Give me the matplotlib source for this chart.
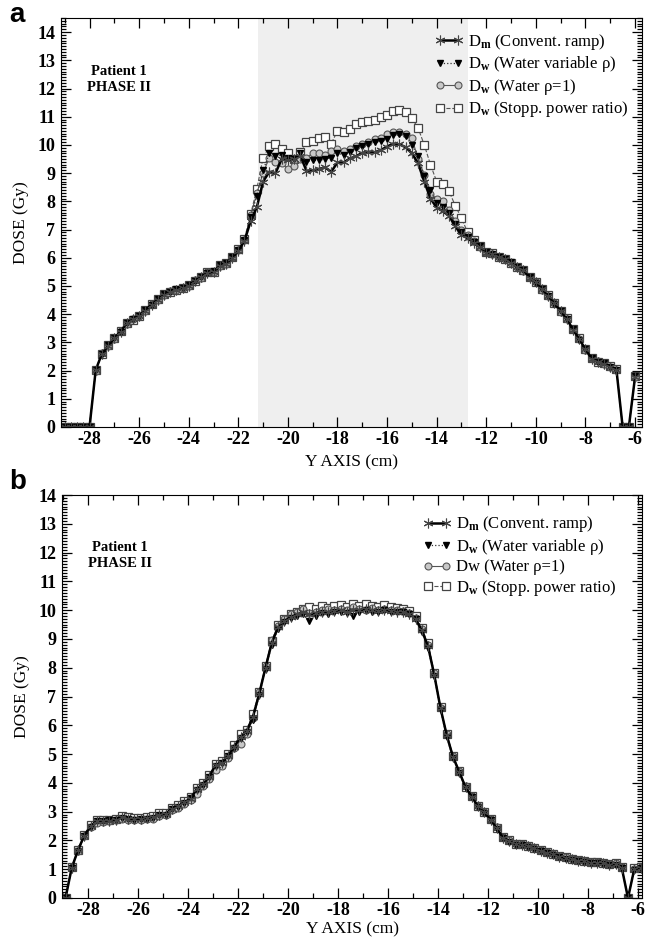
import matplotlib
matplotlib.use('Agg')
import matplotlib.pyplot as plt
from matplotlib.ticker import MultipleLocator

plt.rcParams['font.family'] = 'Liberation Serif'
plt.rcParams['mathtext.fontset'] = 'custom'
plt.rcParams['mathtext.rm'] = 'Liberation Serif'
plt.rcParams['mathtext.bf'] = 'Liberation Serif:bold'
plt.rcParams['mathtext.it'] = 'Liberation Serif:italic'
plt.rcParams['axes.unicode_minus'] = False

# ---- panel a data (dose profiles along Y, Gy) ----
x_a = [-29.0, -28.75, -28.5, -28.25, -28.0, -27.75, -27.5, -27.25, -27.0, -26.75,
       -26.5, -26.25, -26.0, -25.75, -25.5, -25.25, -25.0, -24.75, -24.5, -24.25,
       -24.0, -23.75, -23.5, -23.25, -23.0, -22.75, -22.5, -22.25, -22.0, -21.75,
       -21.5, -21.25, -21.0, -20.75, -20.5, -20.25, -20.0, -19.75, -19.5, -19.25,
       -19.0, -18.75, -18.5, -18.25, -18.0, -17.75, -17.5, -17.25, -17.0, -16.75,
       -16.5, -16.25, -16.0, -15.75, -15.5, -15.25, -15.0, -14.75, -14.5, -14.25,
       -14.0, -13.75, -13.5, -13.25, -13.0, -12.75, -12.5, -12.25, -12.0, -11.75,
       -11.5, -11.25, -11.0, -10.75, -10.5, -10.25, -10.0, -9.75, -9.5, -9.25,
       -9.0, -8.75, -8.5, -8.25, -8.0, -7.75, -7.5, -7.25, -7.0, -6.75,
       -6.5, -6.25, -6.0]

dm_a = [0, 0, 0, 0, 0, 2.02, 2.60, 2.88, 3.14, 3.38,
        3.68, 3.82, 3.94, 4.13, 4.34, 4.52, 4.68, 4.79, 4.87, 4.92,
        5.00, 5.18, 5.31, 5.47, 5.49, 5.72, 5.78, 6.00, 6.25, 6.60,
        7.30, 7.80, 8.70, 9.05, 9.00, 9.50, 9.48, 9.50, 9.62, 9.08,
        9.10, 9.15, 9.20, 9.05, 9.38, 9.38, 9.52, 9.60, 9.72, 9.76,
        9.74, 9.82, 9.94, 10.05, 10.02, 9.92, 9.70, 9.35, 8.70, 8.10,
        7.78, 7.65, 7.48, 7.12, 6.80, 6.70, 6.52, 6.38, 6.18, 6.14,
        6.02, 5.96, 5.82, 5.67, 5.55, 5.30, 5.13, 4.88, 4.64, 4.38,
        4.10, 3.82, 3.45, 3.12, 2.75, 2.42, 2.32, 2.25, 2.13, 2.02,
        0, 0, 1.78]

dwv_a = [0, 0, 0, 0, 0, 2.03, 2.58, 2.90, 3.15, 3.36,
         3.70, 3.83, 3.95, 4.15, 4.33, 4.54, 4.70, 4.78, 4.88, 4.94,
         5.02, 5.17, 5.33, 5.46, 5.52, 5.73, 5.80, 6.02, 6.27, 6.62,
         7.45, 8.20, 9.10, 9.70, 9.60, 9.65, 9.55, 9.50, 9.70, 9.40,
         9.45, 9.45, 9.50, 9.55, 9.70, 9.65, 9.75, 9.90, 9.95, 10.05,
         10.10, 10.15, 10.20, 10.35, 10.40, 10.30, 10.00, 9.60, 8.90, 8.40,
         7.95, 7.80, 7.60, 7.20, 6.90, 6.75, 6.55, 6.40, 6.20, 6.12,
         6.04, 5.95, 5.84, 5.66, 5.57, 5.32, 5.12, 4.90, 4.66, 4.36,
         4.12, 3.84, 3.47, 3.10, 2.78, 2.44, 2.30, 2.26, 2.12, 2.03,
         0, 0, 1.80]

dw1_a = [0, 0, 0, 0, 0, 2.00, 2.62, 2.87, 3.12, 3.40,
         3.66, 3.84, 3.92, 4.12, 4.36, 4.50, 4.69, 4.81, 4.85, 4.93,
         5.01, 5.20, 5.30, 5.48, 5.50, 5.70, 5.79, 6.01, 6.28, 6.63,
         7.50, 8.30, 9.00, 9.55, 9.40, 9.35, 9.15, 9.25, 9.50, 9.55,
         9.70, 9.70, 9.65, 9.80, 9.85, 9.80, 9.85, 9.95, 10.05, 10.10,
         10.20, 10.25, 10.40, 10.45, 10.45, 10.40, 10.25, 9.50, 8.95, 8.25,
         8.10, 8.00, 7.70, 7.30, 7.00, 6.80, 6.58, 6.39, 6.19, 6.15,
         6.01, 5.97, 5.81, 5.68, 5.54, 5.31, 5.14, 4.87, 4.65, 4.39,
         4.09, 3.83, 3.46, 3.13, 2.74, 2.43, 2.33, 2.24, 2.14, 2.01,
         0, 0, 1.79]

dsp_a = [0, 0, 0, 0, 0, 2.01, 2.59, 2.89, 3.16, 3.39,
         3.69, 3.81, 3.95, 4.14, 4.35, 4.53, 4.70, 4.80, 4.86, 4.93,
         5.02, 5.19, 5.32, 5.48, 5.51, 5.74, 5.80, 6.03, 6.30, 6.68,
         7.55, 8.45, 9.55, 9.95, 10.05, 9.85, 9.70, 9.50, 9.75, 10.10,
         10.15, 10.25, 10.28, 10.05, 10.50, 10.45, 10.55, 10.75, 10.82, 10.85,
         10.90, 11.00, 11.05, 11.20, 11.25, 11.15, 10.95, 10.60, 10.00, 9.30,
         8.70, 8.60, 8.35, 7.85, 7.40, 6.90, 6.62, 6.40, 6.21, 6.16,
         6.03, 5.97, 5.83, 5.69, 5.56, 5.31, 5.15, 4.89, 4.67, 4.40,
         4.11, 3.85, 3.48, 3.14, 2.77, 2.45, 2.31, 2.27, 2.15, 2.04,
         0, 0, 1.81]

# ---- panel b data ----
x_b = [-28.9, -28.65, -28.4, -28.15, -27.9, -27.65, -27.4, -27.15, -26.9, -26.65,
       -26.4, -26.15, -25.9, -25.65, -25.4, -25.15, -24.9, -24.65, -24.4, -24.15,
       -23.9, -23.65, -23.4, -23.15, -22.9, -22.65, -22.4, -22.15, -21.9, -21.65,
       -21.4, -21.15, -20.9, -20.65, -20.4, -20.15, -19.9, -19.65, -19.4, -19.15,
       -18.9, -18.65, -18.4, -18.15, -17.9, -17.65, -17.4, -17.15, -16.9, -16.65,
       -16.4, -16.15, -15.9, -15.65, -15.4, -15.15, -14.9, -14.65, -14.4, -14.15,
       -13.9, -13.65, -13.4, -13.15, -12.9, -12.65, -12.4, -12.15, -11.9, -11.65,
       -11.4, -11.15, -10.9, -10.65, -10.4, -10.15, -9.9, -9.65, -9.4, -9.15,
       -8.9, -8.65, -8.4, -8.15, -7.9, -7.65, -7.4, -7.15, -6.9, -6.65,
       -6.4, -6.15, -5.9]

dm_b = [0, 1.05, 1.66, 2.17, 2.49, 2.68, 2.69, 2.69, 2.71, 2.80,
        2.76, 2.74, 2.74, 2.77, 2.80, 2.90, 2.92, 3.10, 3.18, 3.32,
        3.45, 3.78, 3.95, 4.22, 4.62, 4.70, 4.95, 5.25, 5.60, 5.80,
        6.30, 7.10, 8.00, 8.86, 9.40, 9.62, 9.75, 9.85, 9.92, 9.85,
        9.90, 9.95, 9.93, 9.98, 10.00, 9.95, 10.02, 10.00, 10.05, 10.00,
        9.98, 10.02, 9.97, 9.95, 9.95, 9.88, 9.70, 9.30, 8.75, 7.75,
        6.60, 5.65, 4.90, 4.38, 3.85, 3.52, 3.18, 2.98, 2.72, 2.42,
        2.10, 1.98, 1.87, 1.85, 1.80, 1.72, 1.64, 1.58, 1.52, 1.44,
        1.39, 1.35, 1.30, 1.27, 1.23, 1.22, 1.20, 1.16, 1.18, 1.05,
        0.0, 1.00, 1.05]

dwv_b = [0, 1.03, 1.64, 2.15, 2.47, 2.66, 2.67, 2.70, 2.72, 2.78,
         2.74, 2.72, 2.75, 2.76, 2.78, 2.88, 2.90, 3.08, 3.16, 3.30,
         3.48, 3.76, 3.93, 4.20, 4.60, 4.68, 4.92, 5.22, 5.55, 5.75,
         6.20, 7.05, 7.95, 8.80, 9.35, 9.60, 9.72, 9.80, 9.85, 9.62,
         9.80, 9.90, 9.85, 9.92, 9.95, 9.90, 9.78, 9.95, 10.02, 9.95,
         9.95, 10.00, 9.95, 9.92, 9.93, 9.85, 9.68, 9.25, 8.68, 7.70,
         6.52, 5.60, 4.85, 4.35, 3.82, 3.50, 3.15, 2.96, 2.70, 2.40,
         2.08, 1.96, 1.85, 1.83, 1.78, 1.70, 1.62, 1.56, 1.50, 1.42,
         1.37, 1.33, 1.28, 1.25, 1.21, 1.20, 1.18, 1.14, 1.16, 1.03,
         0.0, 0.98, 1.03]

dw1_b = [0, 1.07, 1.62, 2.14, 2.45, 2.62, 2.64, 2.66, 2.70, 2.74,
         2.70, 2.72, 2.70, 2.73, 2.76, 2.84, 2.88, 3.05, 3.12, 3.26,
         3.40, 3.62, 3.88, 4.15, 4.45, 4.60, 4.85, 5.20, 5.35, 5.70,
         6.25, 7.15, 8.05, 8.95, 9.45, 9.70, 9.85, 9.95, 10.05, 9.90,
         9.95, 10.00, 10.05, 10.00, 10.05, 10.02, 10.10, 10.05, 10.00, 10.08,
         10.02, 10.05, 10.00, 10.00, 9.98, 9.90, 9.72, 9.35, 8.80, 7.80,
         6.60, 5.70, 4.95, 4.40, 3.88, 3.55, 3.20, 3.00, 2.75, 2.45,
         2.12, 2.00, 1.89, 1.87, 1.82, 1.74, 1.66, 1.60, 1.54, 1.46,
         1.41, 1.37, 1.32, 1.29, 1.25, 1.24, 1.22, 1.18, 1.20, 1.07,
         0.0, 1.02, 1.07]

dsp_b = [0, 1.06, 1.67, 2.20, 2.52, 2.72, 2.72, 2.72, 2.74, 2.84,
         2.80, 2.77, 2.77, 2.80, 2.84, 2.94, 2.97, 3.14, 3.22, 3.36,
         3.50, 3.82, 3.98, 4.26, 4.65, 4.75, 5.00, 5.30, 5.68, 5.85,
         6.40, 7.15, 8.05, 8.92, 9.48, 9.70, 9.85, 9.95, 10.05, 10.12,
         10.05, 10.15, 10.08, 10.15, 10.18, 10.12, 10.22, 10.15, 10.20, 10.15,
         10.12, 10.18, 10.10, 10.08, 10.05, 9.98, 9.80, 9.38, 8.85, 7.82,
         6.62, 5.68, 4.92, 4.40, 3.86, 3.54, 3.20, 3.00, 2.74, 2.44,
         2.12, 2.00, 1.89, 1.87, 1.82, 1.75, 1.66, 1.60, 1.54, 1.46,
         1.41, 1.37, 1.32, 1.29, 1.25, 1.24, 1.22, 1.18, 1.20, 1.07,
         0.0, 1.03, 1.08]

labels_a = ['D$_\\mathbf{m}$ (Convent. ramp)', 'D$_\\mathbf{w}$ (Water variable \u03c1)',
            'D$_\\mathbf{w}$ (Water \u03c1=1)', 'D$_\\mathbf{w}$ (Stopp. power ratio)']
labels_b = ['D$_\\mathbf{m}$ (Convent. ramp)', 'D$_\\mathbf{w}$ (Water variable \u03c1)',
            'Dw (Water \u03c1=1)', 'D$_\\mathbf{w}$ (Stopp. power ratio)']

shade_span = (-21.2, -12.75)

TICK_FP = dict(family='Liberation Serif', weight='bold', size=13)

STYLE_SP = dict(ls='--', lw=0.8, color='#555555', marker='s', ms=6, mfc='white', mec='#444444', mew=0.9)
STYLE_W1 = dict(ls='-', lw=0.8, color='#555555', marker='o', ms=5, mfc='#c8c8c8', mec='#555555', mew=0.8)
STYLE_WV = dict(ls=':', lw=0.9, color='#333333', marker='v', ms=5, mfc='black', mec='black')
STYLE_M = dict(ls='-', lw=1.8, color='black', marker=(6, 2, 0), ms=7, mec='#444444', mew=0.8)


def DrawPanel(ax, x, dm, dwv, dw1, dsp, labels, xlim, ylim, leg_anchor, xlab_y, shade=None):
    if shade is not None:
        ax.axvspan(shade[0], shade[1], color='#efefef', lw=0, zorder=0)
    l_sp, = ax.plot(x, dsp, **STYLE_SP)
    l_w1, = ax.plot(x, dw1, **STYLE_W1)
    l_wv, = ax.plot(x, dwv, **STYLE_WV)
    l_m, = ax.plot(x, dm, **STYLE_M)

    ax.legend([l_m, l_wv, l_w1, l_sp], labels, loc='upper left', bbox_to_anchor=leg_anchor,
              frameon=False, fontsize=12, numpoints=2, handlelength=1.7, handletextpad=0.3,
              labelspacing=0.15, borderpad=0, borderaxespad=0)

    ax.set_xlim(*xlim)
    ax.set_ylim(*ylim)
    ax.xaxis.set_major_locator(MultipleLocator(2))
    ax.xaxis.set_minor_locator(MultipleLocator(1))
    ax.yaxis.set_major_locator(MultipleLocator(1))
    ax.yaxis.set_minor_locator(MultipleLocator(0.1))
    ax.tick_params(which='both', direction='in', top=True, right=True, width=0.9)
    ax.tick_params(which='major', length=7)
    ax.tick_params(which='minor', length=3.5)
    ax.tick_params(axis='x', which='major', pad=3)
    ax.tick_params(axis='y', which='major', pad=4)
    for lab in ax.get_xticklabels() + ax.get_yticklabels():
        lab.set_fontproperties(matplotlib.font_manager.FontProperties(**TICK_FP))

    ax.text(0.10, 0.85, 'Patient 1\nPHASE II', transform=ax.transAxes, ha='center', va='center',
            fontsize=10.5, weight='bold', linespacing=1.3)
    ax.set_xlabel('Y AXIS (cm)', fontsize=12.5)
    ax.set_ylabel('DOSE (Gy)', fontsize=12.5)
    ax.yaxis.set_label_coords(-0.055, 0.5)
    ax.xaxis.set_label_coords(0.5, xlab_y)


fig = plt.figure(figsize=(6.46, 9.41), dpi=100)
ax_a = fig.add_axes([61 / 646, 1 - 427 / 941, 581 / 646, 409 / 941])
ax_b = fig.add_axes([62 / 646, 1 - 898 / 941, 580 / 646, 403 / 941])

DrawPanel(ax_a, x_a, dm_a, dwv_a, dw1_a, dsp_a, labels_a, (-29.15, -5.72), (0, 14.5),
          (0.644, 0.966), -0.066, shade=shade_span)
DrawPanel(ax_b, x_b, dm_b, dwv_b, dw1_b, dsp_b, labels_b, (-29.04, -5.84), (0, 14.0),
          (0.622, 0.952), -0.058)

fig.text(9 / 646, 1 - 2 / 941, 'a', family='Liberation Sans', weight='bold', fontsize=20, va='top')
fig.text(9 / 646, 1 - 469 / 941, 'b', family='Liberation Sans', weight='bold', fontsize=20, va='top')

fig.savefig('out.png', dpi=100)
